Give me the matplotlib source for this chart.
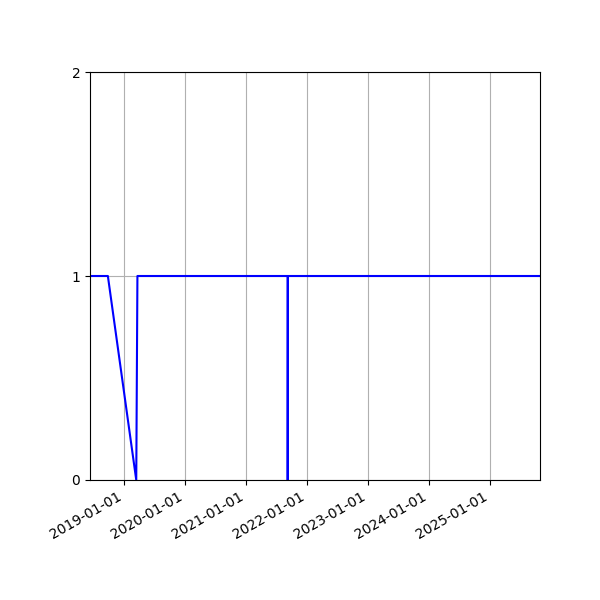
import matplotlib
matplotlib.use("Agg")
import matplotlib.pyplot as plt
import matplotlib.dates as mdates
import numpy as np

dates = np.array([
    "2018-06-12", "2018-09-27", "2019-03-16", "2019-03-23",
    "2021-09-08", "2021-09-08", "2021-09-09", "2025-10-28",
], dtype="datetime64[D]")
status = [1, 1, 0, 1, 1, 0, 1, 1]

fig, ax = plt.subplots(figsize=(6, 6), dpi=100)
ax.plot(dates, status, color="blue")
ax.set_xlim(dates[0], dates[-1])
ax.set_ylim(0, 2)
ax.set_yticks([0, 1, 2])
ax.xaxis.set_major_locator(mdates.YearLocator())
ax.xaxis.set_major_formatter(mdates.DateFormatter("%Y-%m-%d"))
ax.grid(True)
fig.autofmt_xdate()
fig.subplots_adjust(left=0.15, right=0.9, top=0.88, bottom=0.2)
fig.savefig("out.png")
